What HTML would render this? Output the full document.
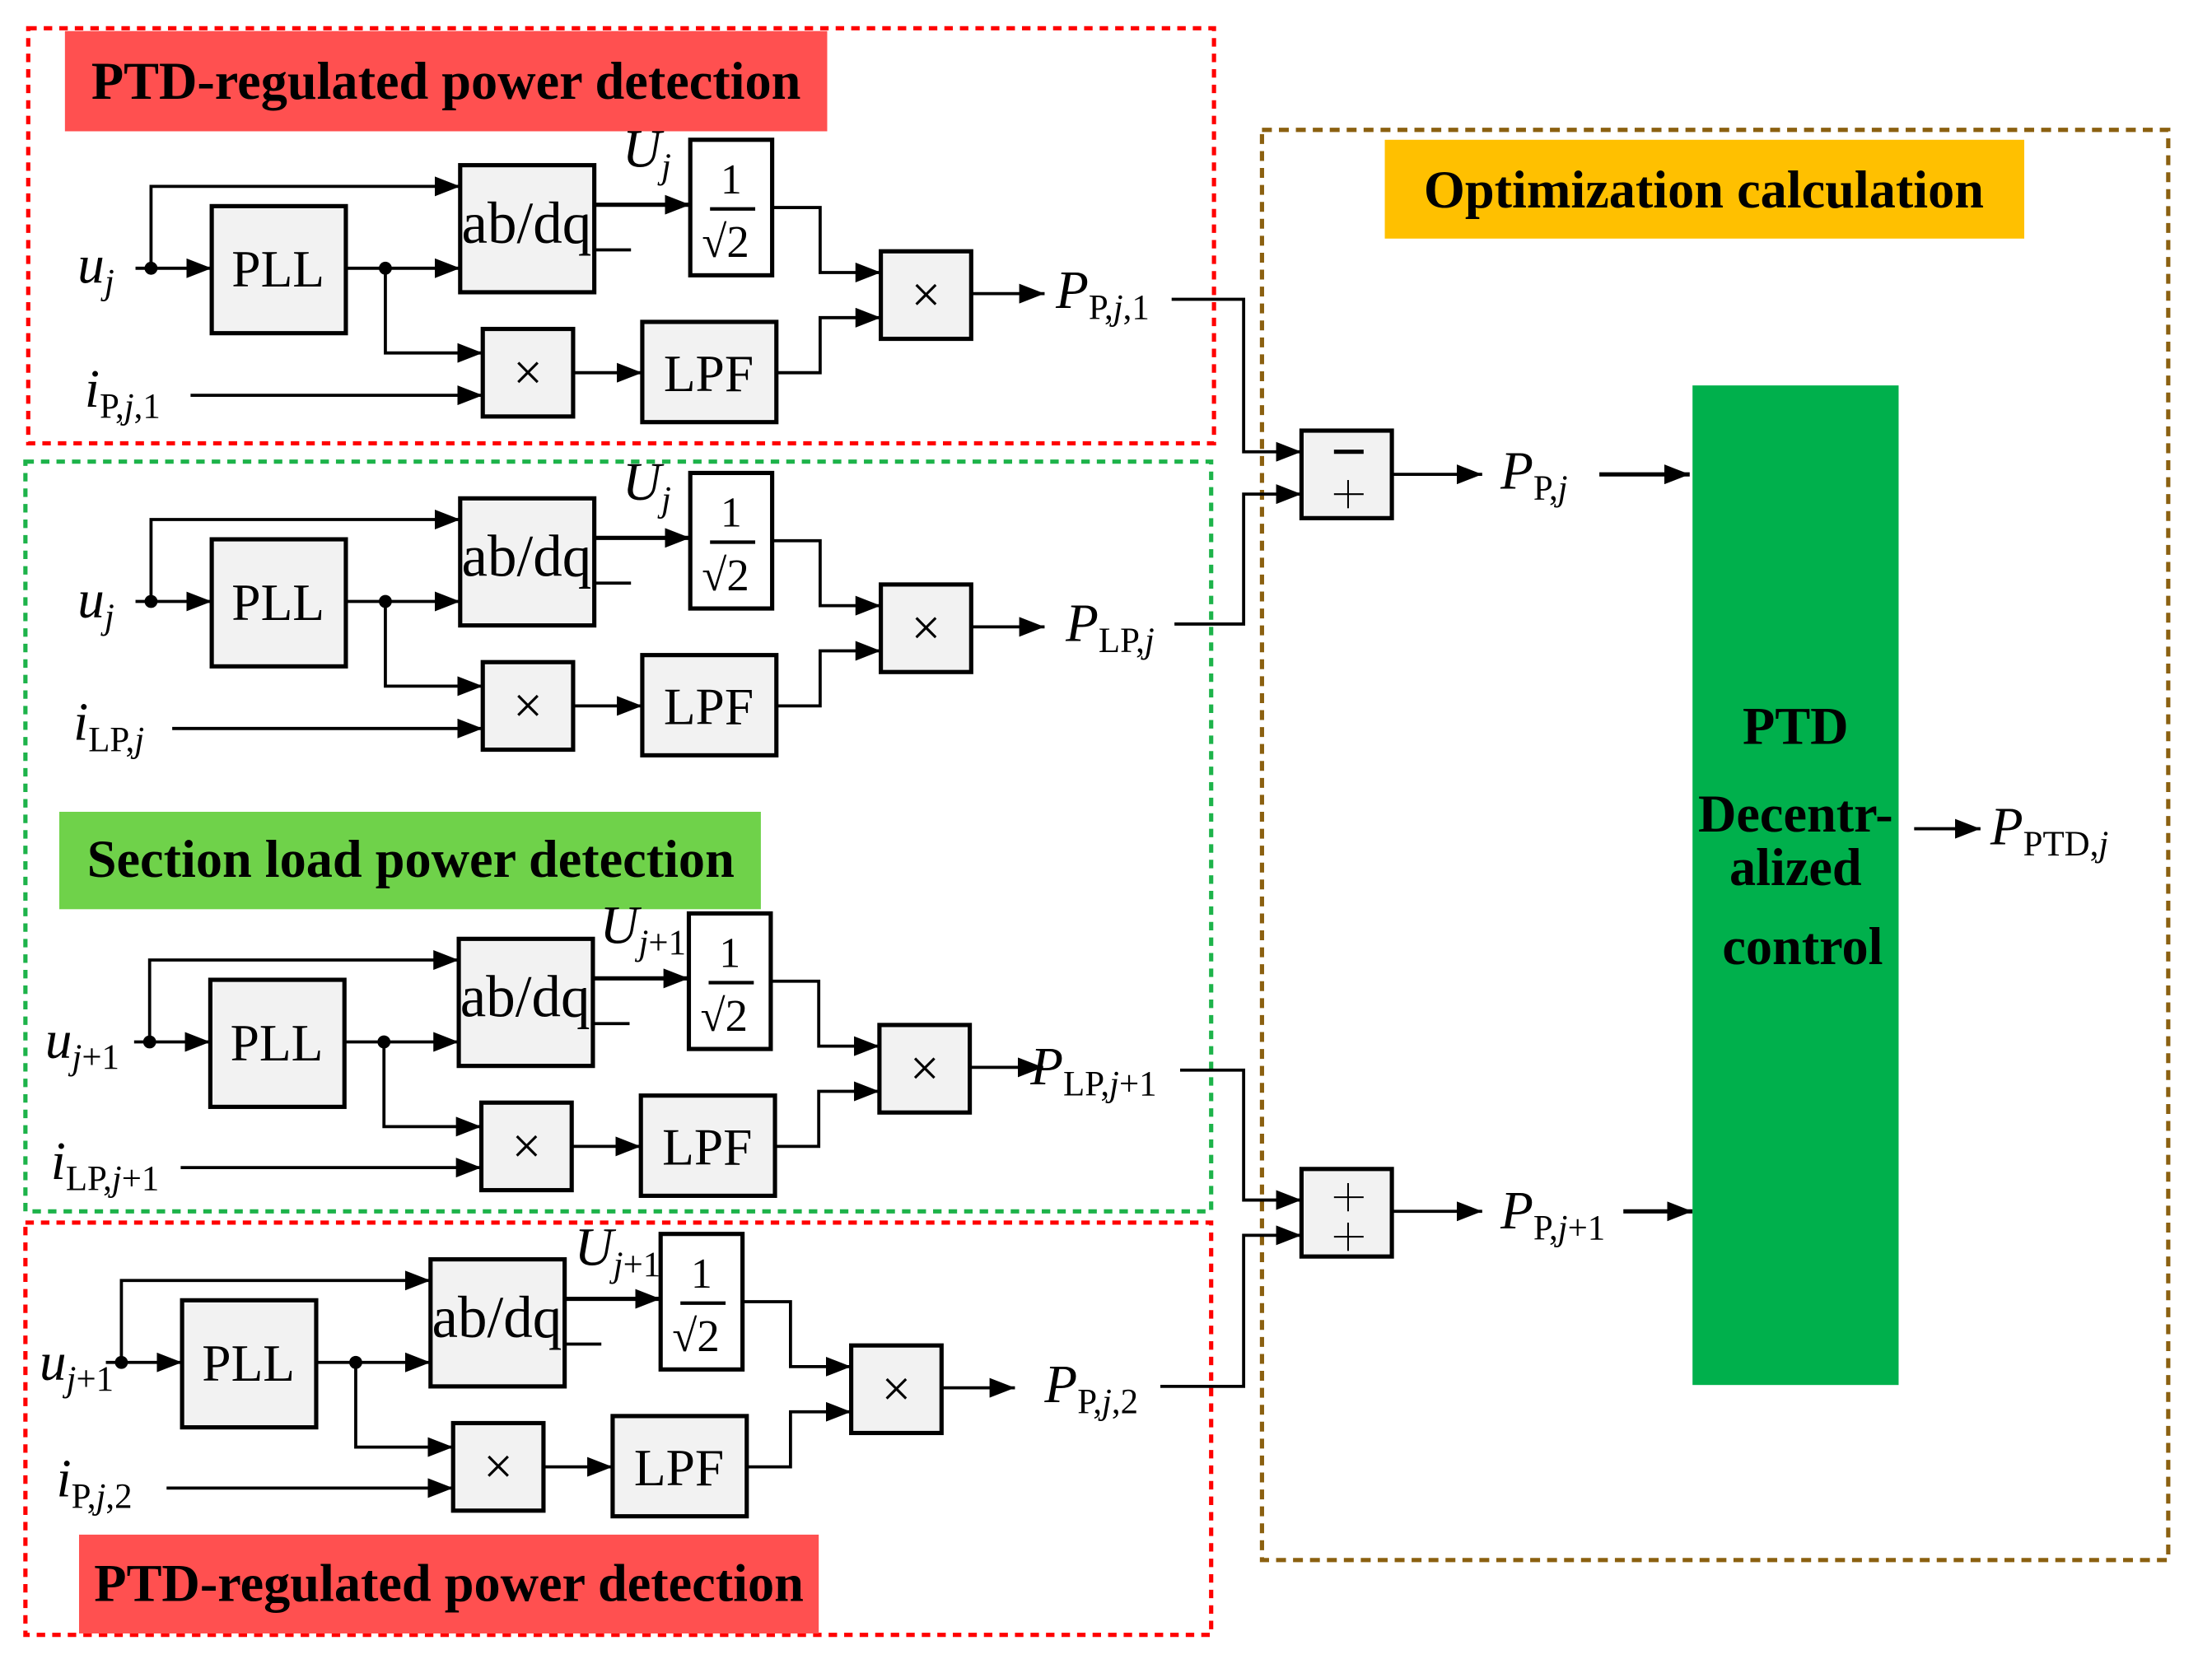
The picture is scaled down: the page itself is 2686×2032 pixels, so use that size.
<!DOCTYPE html>
<html><head><meta charset="utf-8"><style>
html,body{margin:0;padding:0;background:#fff}
svg{display:block}
.t{font-family:"Liberation Serif",serif}
</style></head><body>
<svg width="2686" height="2032" viewBox="0 0 1567 1185" preserveAspectRatio="none" xmlns="http://www.w3.org/2000/svg">
<defs>
<marker id="b" markerWidth="18" markerHeight="14" refX="18" refY="7" orient="auto" markerUnits="userSpaceOnUse"><path d="M0,0 L18,7 L0,14 z" fill="#000"/></marker>
<g id="m" stroke="#000" stroke-width="2.2" fill="none">
  <rect x="150" y="146" width="95" height="90" fill="#f2f2f2" stroke-width="3"/>
  <rect x="326" y="117" width="95" height="90" fill="#f2f2f2" stroke-width="3"/>
  <rect x="489" y="99" width="58" height="96" fill="#fff" stroke-width="3"/>
  <rect x="342" y="233" width="64" height="62" fill="#f2f2f2" stroke-width="3"/>
  <rect x="455" y="228" width="95" height="71" fill="#f2f2f2" stroke-width="3"/>
  <rect x="624" y="178" width="64" height="62" fill="#f2f2f2" stroke-width="3"/>
  <polyline points="96,190 150,190" marker-end="url(#b)"/>
  <polyline points="107,190 107,132 326,132" marker-end="url(#b)"/>
  <polyline points="245,190 326,190" marker-end="url(#b)"/>
  <polyline points="273,190 273,250 342,250" marker-end="url(#b)"/>
  <polyline points="406,264 455,264" marker-end="url(#b)"/>
  <polyline points="421,145 489,145" marker-end="url(#b)" stroke-width="3"/>
  <line x1="421" y1="177" x2="447" y2="177"/>
  <polyline points="547,147 581,147 581,193 624,193" marker-end="url(#b)"/>
  <polyline points="550,264 581,264 581,225 624,225" marker-end="url(#b)"/>
  <polyline points="688,208 740,208" marker-end="url(#b)"/>
  <circle cx="107" cy="190" r="3.5" fill="#000"/>
  <circle cx="273" cy="190" r="3.5" fill="#000"/>
  <g class="t" fill="#000" stroke="none" font-size="37" text-anchor="middle">
    <text x="197" y="203">PLL</text>
    <text x="373" y="172" font-size="42" textLength="92" lengthAdjust="spacingAndGlyphs">ab/dq</text>
    <text x="502" y="277">LPF</text>
    <text x="374" y="276">×</text>
    <text x="656" y="221">×</text>
    <text x="518" y="137" font-size="30">1</text>
    <line x1="503" y1="148" x2="535" y2="148" stroke="#000" stroke-width="2.5"/>
    <text x="514" y="182" font-size="32">√2</text>
  </g>
</g>
</defs>
<rect x="20" y="20" width="840" height="294" fill="none" stroke="#f00" stroke-width="3" stroke-dasharray="6,5"/>
<rect x="18" y="327" width="840" height="531" fill="none" stroke="#1db34a" stroke-width="3" stroke-dasharray="6,5"/>
<rect x="18" y="866" width="840" height="292" fill="none" stroke="#f00" stroke-width="3" stroke-dasharray="6,5"/>
<rect x="894" y="92" width="642" height="1013" fill="none" stroke="#8b6010" stroke-width="3" stroke-dasharray="7,5"/>
<rect x="46" y="22" width="540" height="71" fill="#ff5050"/>
<text class="t" x="316" y="70" font-size="37.5" font-weight="bold" text-anchor="middle">PTD-regulated power detection</text>
<rect x="42" y="575" width="497" height="69" fill="#6fd24a"/>
<text class="t" x="291" y="621" font-size="37.5" font-weight="bold" text-anchor="middle">Section load power detection</text>
<rect x="56" y="1087" width="524" height="70" fill="#ff5050"/>
<text class="t" x="318" y="1134" font-size="37.5" font-weight="bold" text-anchor="middle">PTD-regulated power detection</text>
<rect x="981" y="99" width="453" height="70" fill="#ffc000"/>
<text class="t" x="1207" y="147" font-size="37.5" font-weight="bold" text-anchor="middle">Optimization calculation</text>
<use href="#m"/>
<use href="#m" transform="translate(0,236)"/>
<use href="#m" transform="translate(-1,548)"/>
<use href="#m" transform="translate(-21,775)"/>
<g stroke="#000" stroke-width="2.2" fill="none">
<polyline points="135,280 342,280" marker-end="url(#b)"/>
<polyline points="122,516 342,516" marker-end="url(#b)"/>
<polyline points="128,827 341,827" marker-end="url(#b)"/>
<polyline points="118,1054 321,1054" marker-end="url(#b)"/>
<polyline points="830,212 881,212 881,320 922,320" marker-end="url(#b)"/>
<polyline points="832,442 881,442 881,350 922,350" marker-end="url(#b)"/>
<polyline points="836,758 881,758 881,850 922,850" marker-end="url(#b)"/>
<polyline points="822,982 881,982 881,875 922,875" marker-end="url(#b)"/>
<rect x="922" y="305" width="64" height="62" fill="#f2f2f2" stroke-width="3"/>
<rect x="922" y="828" width="64" height="62" fill="#f2f2f2" stroke-width="3"/>
<polyline points="986,336 1050,336" marker-end="url(#b)"/>
<polyline points="1133,336 1197,336" marker-end="url(#b)" stroke-width="3"/>
<polyline points="986,858 1050,858" marker-end="url(#b)"/>
<polyline points="1150,858 1199,858" marker-end="url(#b)" stroke-width="3"/>
<polyline points="1356,587 1403,587" marker-end="url(#b)"/>
<line x1="945" y1="320" x2="966" y2="320" stroke-width="3"/>
<line x1="945" y1="350" x2="966" y2="350" stroke-width="1.2"/><line x1="955" y1="340" x2="955" y2="360" stroke-width="1.2"/>
<line x1="945" y1="848" x2="966" y2="848" stroke-width="1.2"/><line x1="955" y1="838" x2="955" y2="858" stroke-width="1.2"/>
<line x1="945" y1="876" x2="966" y2="876" stroke-width="1.2"/><line x1="955" y1="866" x2="955" y2="886" stroke-width="1.2"/>
</g>
<rect x="1199" y="273" width="146" height="708" fill="#00b04c"/>
<g class="t" font-size="37.5" font-weight="bold" text-anchor="middle">
<text x="1272" y="527">PTD</text>
<text x="1272" y="589">Decentr-</text>
<text x="1272" y="627">alized</text>
<text x="1277" y="683">control</text>
</g>
<g class="t" font-size="38" font-style="italic">
<text x="55" y="200">u<tspan font-size="25" dy="8">j</tspan></text>
<text x="55" y="437">u<tspan font-size="25" dy="8">j</tspan></text>
<text x="32" y="749">u<tspan font-size="25" dy="8">j</tspan><tspan font-size="25" font-style="normal">+1</tspan></text>
<text x="28" y="977">u<tspan font-size="25" dy="8">j</tspan><tspan font-size="25" font-style="normal">+1</tspan></text>
<text x="60" y="288">i<tspan font-size="25" dy="8" font-style="normal">P,</tspan><tspan font-size="25">j</tspan><tspan font-size="25" font-style="normal">,1</tspan></text>
<text x="52" y="524">i<tspan font-size="25" dy="8" font-style="normal">LP,</tspan><tspan font-size="25">j</tspan></text>
<text x="36" y="835">i<tspan font-size="25" dy="8" font-style="normal">LP,</tspan><tspan font-size="25">j</tspan><tspan font-size="25" font-style="normal">+1</tspan></text>
<text x="40" y="1060">i<tspan font-size="25" dy="8" font-style="normal">P,</tspan><tspan font-size="25">j</tspan><tspan font-size="25" font-style="normal">,2</tspan></text>
<text x="441" y="118">U<tspan font-size="25" dy="8">j</tspan></text>
<text x="441" y="354">U<tspan font-size="25" dy="8">j</tspan></text>
<text x="425" y="668">U<tspan font-size="25" dy="8">j</tspan><tspan font-size="25" font-style="normal">+1</tspan></text>
<text x="407" y="896">U<tspan font-size="25" dy="8">j</tspan><tspan font-size="25" font-style="normal">+1</tspan></text>
<text x="748" y="218">P<tspan font-size="25" dy="8" font-style="normal">P,</tspan><tspan font-size="25">j</tspan><tspan font-size="25" font-style="normal">,1</tspan></text>
<text x="755" y="454">P<tspan font-size="25" dy="8" font-style="normal">LP,</tspan><tspan font-size="25">j</tspan></text>
<text x="730" y="768">P<tspan font-size="25" dy="8" font-style="normal">LP,</tspan><tspan font-size="25">j</tspan><tspan font-size="25" font-style="normal">+1</tspan></text>
<text x="740" y="993">P<tspan font-size="25" dy="8" font-style="normal">P,</tspan><tspan font-size="25">j</tspan><tspan font-size="25" font-style="normal">,2</tspan></text>
<text x="1063" y="346">P<tspan font-size="25" dy="8" font-style="normal">P,</tspan><tspan font-size="25">j</tspan></text>
<text x="1063" y="870">P<tspan font-size="25" dy="8" font-style="normal">P,</tspan><tspan font-size="25">j</tspan><tspan font-size="25" font-style="normal">+1</tspan></text>
<text x="1410" y="598">P<tspan font-size="25" dy="8" font-style="normal">PTD,</tspan><tspan font-size="25">j</tspan></text>
</g>
</svg>
</body></html>
